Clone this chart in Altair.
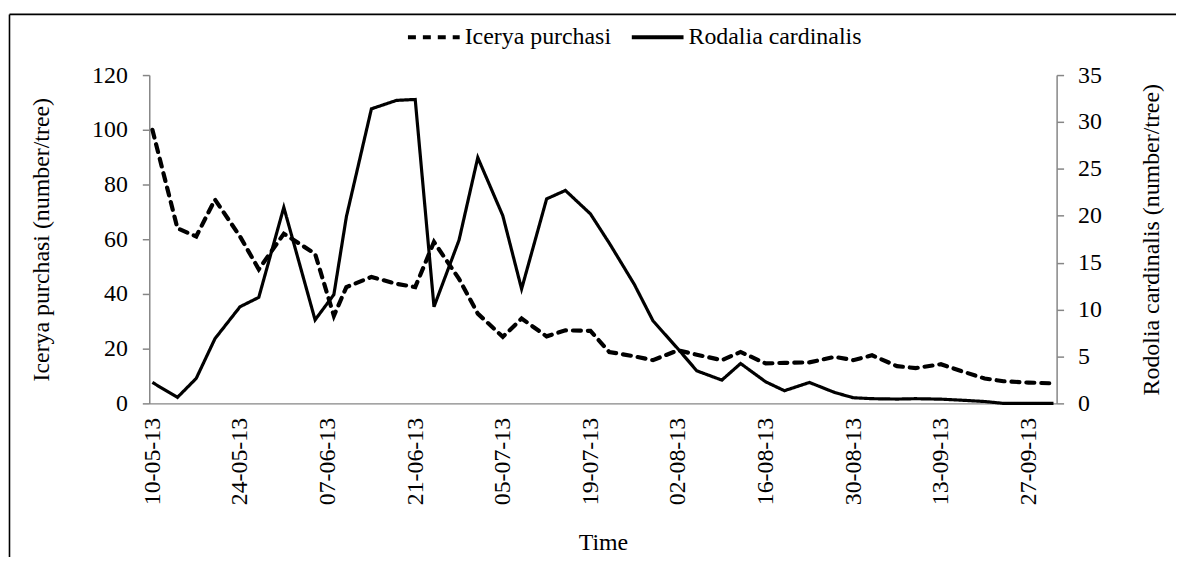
import altair as alt
import pandas as pd

FONT = "Liberation Serif, Times New Roman, serif"

dates = ["2013-05-10", "2013-05-14", "2013-05-17", "2013-05-20", "2013-05-24", "2013-05-27",
         "2013-05-31", "2013-06-05", "2013-06-08", "2013-06-10", "2013-06-14", "2013-06-18",
         "2013-06-21", "2013-06-24", "2013-06-28", "2013-07-01", "2013-07-05", "2013-07-08",
         "2013-07-12", "2013-07-15", "2013-07-19", "2013-07-22", "2013-07-26", "2013-07-29",
         "2013-08-02", "2013-08-05", "2013-08-09", "2013-08-12", "2013-08-16", "2013-08-19",
         "2013-08-23", "2013-08-27", "2013-08-30", "2013-09-02", "2013-09-06", "2013-09-09",
         "2013-09-13", "2013-09-16", "2013-09-20", "2013-09-23", "2013-09-27", "2013-10-01"]

icerya = [100, 64, 61, 74.5, 61, 49, 62, 54.7, 32, 42.5, 46.2, 43.7, 42.5, 59, 45.5, 32.8,
          24.3, 31, 24.5, 26.7, 26.5, 18.8, 17.2, 15.8, 19.4, 17.8, 15.8, 18.8, 14.6, 14.8,
          15.0, 17.0, 15.8, 17.6, 13.6, 12.9, 14.3, 12.0, 9.1, 8.1, 7.6, 7.3]

rodolia = [2.23, 0.64, 2.66, 6.9, 10.3, 11.3, 20.9, 8.9, 11.6, 19.9, 31.4, 32.3, 32.4, 10.3,
           17.4, 26.2, 20.0, 12.2, 21.8, 22.7, 20.2, 17.1, 12.7, 8.8, 5.8, 3.47, 2.48, 4.25,
           2.3, 1.35, 2.23, 1.17, 0.6, 0.5, 0.46, 0.5, 0.45, 0.35, 0.2, 0.0, 0.0, 0.0]

tick_dates = ["2013-05-10", "2013-05-24", "2013-06-07", "2013-06-21", "2013-07-05",
              "2013-07-19", "2013-08-02", "2013-08-16", "2013-08-30", "2013-09-13",
              "2013-09-27"]

series_names = ["Icerya purchasi", "Rodalia cardinalis"]
left_ticks = [0, 20, 40, 60, 80, 100, 120]
right_ticks = [0, 5, 10, 15, 20, 25, 30, 35]

df = pd.DataFrame({
    "date": dates + dates,
    "series": [series_names[0]] * len(dates) + [series_names[1]] * len(dates),
    "value": icerya + rodolia,
})


def ms(s):
    return int(pd.Timestamp(s, tz="UTC").value // 10**6)


half_day = 12 * 3600 * 1000
x_domain = [ms(dates[0]) - half_day, ms(dates[-1]) + half_day]
tick_ms = [ms(t) for t in tick_dates]

x_enc = alt.X(
    "date:T",
    scale=alt.Scale(type="utc", domain=x_domain),
    axis=alt.Axis(values=tick_ms, format="%d-%m-%y", labelAngle=270, labelAlign="right",
                  labelBaseline="middle", ticks=False, labelPadding=14, title="Time",
                  titlePadding=26, grid=False, labelFont=FONT, titleFont=FONT),
)

dash_enc = alt.StrokeDash(
    "series:N",
    scale=alt.Scale(domain=series_names, range=[[8, 7], [1, 0]]),
    legend=alt.Legend(title=None, orient="none", legendX=258, legendY=-66,
                      direction="horizontal", symbolType="stroke", symbolSize=2704,
                      symbolStrokeWidth=4, symbolStrokeColor="black", labelOffset=3,
                      columnPadding=12, padding=0, labelFont=FONT, labelFontSize=24,
                      labelColor="black", labelLimit=400),
)

base = alt.Chart(df)

line_ic = base.transform_filter(alt.datum.series == series_names[0]).mark_line(
    color="black", strokeWidth=4.2, strokeCap="round"
).encode(
    x=x_enc,
    y=alt.Y("value:Q", scale=alt.Scale(domain=[0, 120], nice=False),
            axis=alt.Axis(orient="left", values=left_ticks, title="Icerya purchasi (number/tree)",
                          titlePadding=38, labelPadding=15, grid=False,
                          labelFont=FONT, titleFont=FONT)),
    strokeDash=dash_enc,
)

line_ro = base.transform_filter(alt.datum.series == series_names[1]).mark_line(
    color="black", strokeWidth=3.2
).encode(
    x=x_enc,
    y=alt.Y("value:Q", scale=alt.Scale(domain=[0, 35], nice=False),
            axis=alt.Axis(orient="right", values=right_ticks,
                          title="Rodolia cardinalis (number/tree)", titleAngle=270,
                          titleBaseline="top",
                          titlePadding=38, labelPadding=14, grid=False,
                          labelFont=FONT, titleFont=FONT)),
    strokeDash=dash_enc,
)

frame_data = alt.Data(values=[{"k": 1}])
frame_left = alt.Chart(frame_data).mark_rule(color="black", strokeWidth=1.6).encode(
    x=alt.value(-140.5), y=alt.value(-61), y2=alt.value(520))
frame_top = alt.Chart(frame_data).mark_rule(color="black", strokeWidth=1.6).encode(
    x=alt.value(-140.5), x2=alt.value(1040), y=alt.value(-61))

chart = alt.layer(line_ic, line_ro, frame_left, frame_top).resolve_scale(
    y="independent"
).properties(
    width=912, height=330,
    autosize=alt.AutoSizeParams(type="none"),
    padding={"left": 142, "top": 66, "right": 120, "bottom": 153},
).configure_view(stroke=None).configure_axis(
    labelFont=FONT, titleFont=FONT, labelFontSize=24, titleFontSize=24,
    labelColor="black", titleColor="black", titleFontWeight="normal",
    domainColor="#868686", tickColor="#868686", tickSize=7, domainWidth=1.5, tickWidth=1.5,
)

chart.save("out.html", embed_options={"renderer": "svg", "actions": False})
